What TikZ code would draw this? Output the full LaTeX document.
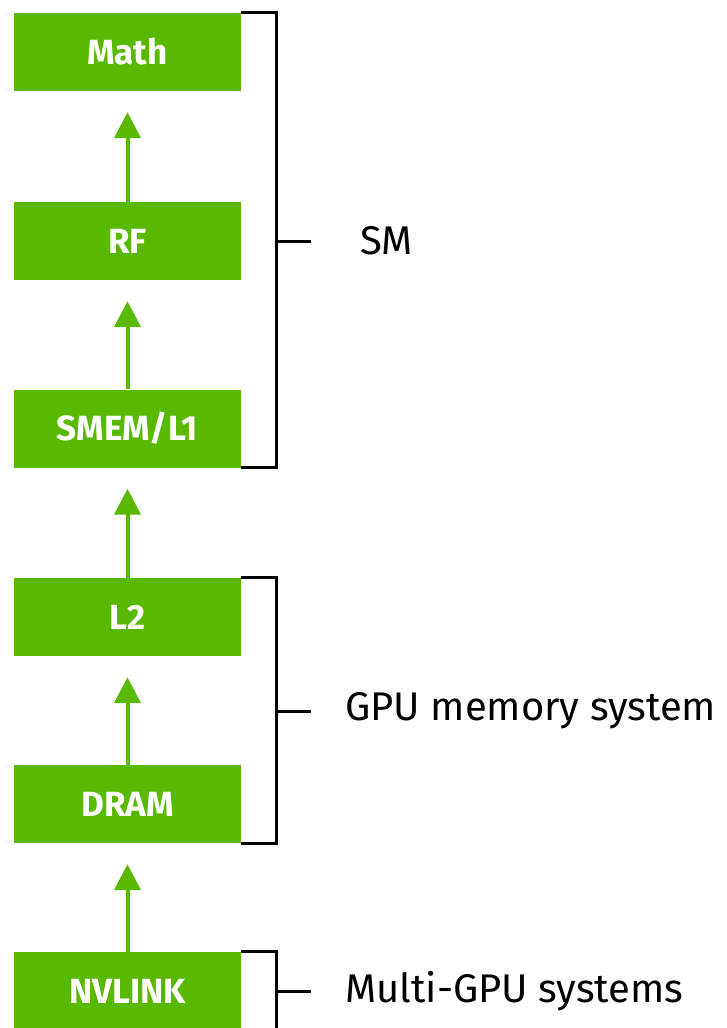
\documentclass[tikz,border=0pt]{standalone}
\usepackage{fontspec}
\setmainfont{Fira Sans}
\usetikzlibrary{arrows.meta}
\definecolor{nvgreen}{RGB}{88,185,0}
\begin{document}
\begin{tikzpicture}[x=1pt,y=-1pt,
  level/.style={fill=nvgreen,text=white,inner sep=0pt,minimum width=227pt,
    minimum height=78pt,font=\fontsize{35}{40}\selectfont\bfseries},
  upflow/.style={draw=nvgreen,line width=4pt,shorten >=21pt,
    -{Triangle[width=26pt,length=26pt]}},
  brace/.style={draw=black,line width=3pt},
  group/.style={anchor=west,inner sep=0pt,font=\fontsize{40}{46}\selectfont}]
  \useasboundingbox (0,0) rectangle (726,1028);
  % memory levels
  \node[level] (math) at (127.5,52) {Math};
  \node[level] (rf) at (127.5,241) {RF};
  \node[level] (smem) at (127.5,428.5) {SMEM/L1};
  \node[level] (ltwo) at (127.5,617) {L2};
  \node[level] (dram) at (127.5,804) {DRAM};
  \node[level] (nvlink) at (127.5,991) {NVLINK};
  % data paths
  \draw[upflow] (rf.north) -- (math.south);
  \draw[upflow] (smem.north) -- (rf.south);
  \draw[upflow] (ltwo.north) -- (smem.south);
  \draw[upflow] (dram.north) -- (ltwo.south);
  \draw[upflow] (nvlink.north) -- (dram.south);
  % groups
  \coordinate (smtick) at (275,241);
  \coordinate (gputick) at (275,711);
  \coordinate (multitick) at (275,991);
  \draw[brace] (math.north east) -- ++(35,0) |- (smem.south east);
  \draw[brace] (ltwo.north east) -- ++(35,0) |- (dram.south east);
  \draw[brace] (nvlink.north east) -- ++(35,0) |- (nvlink.south east);
  \node[group] (sm) at (360,241) {SM};
  \node[group] (gpu) at (345,711) {GPU memory system};
  \node[group] (multi) at (345,991) {Multi-GPU systems};
  \draw[brace] (smtick) -- ++(36,0);
  \draw[brace] (gputick) -- ++(36,0);
  \draw[brace] (multitick) -- ++(36,0);
\end{tikzpicture}
\end{document}
